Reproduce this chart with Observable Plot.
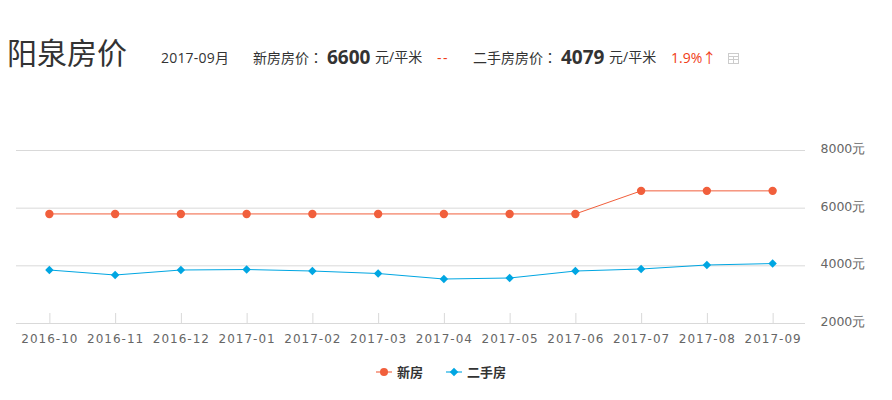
<!DOCTYPE html>
<html><head><meta charset="utf-8">
<script src="https://cdn.jsdelivr.net/npm/d3@7"></script>
<script src="https://cdn.jsdelivr.net/npm/@observablehq/plot@0.6"></script>
<style>
html,body{margin:0;padding:0;background:#fff;width:892px;height:400px;overflow:hidden;font-family:"Open Sans","Noto Sans CJK SC",sans-serif;}
#head{position:relative;height:90px;color:#333;}
#head span{position:absolute;white-space:nowrap;line-height:20px;top:48px;font-size:14px;}
#head span.c{top:47px;}
#head span i{font-style:normal;font-family:"Noto Sans CJK TC";}
#head .t{font-size:30px;left:7px;top:33px;line-height:40px;font-weight:400;}
#head .b{font-size:19px;font-weight:700;top:47px;}
#head .r{color:#f03c17;}
#head .g{left:728px;top:53px;width:9px;height:9px;border:1px solid #ccc;background:linear-gradient(#ccc,#ccc) 0 2px/100% 1px no-repeat,linear-gradient(#ccc,#ccc) 0 5px/100% 1px no-repeat,linear-gradient(#ccc,#ccc) 4px 3px/1px 6px no-repeat;}
#chart{height:270px;}
#chart svg{display:block;}
#chart g[aria-label="x-axis tick label"] text{letter-spacing:1px;}
#legend{position:relative;height:40px;font-size:13px;font-weight:700;color:#333;}
#legend .l{position:absolute;top:11px;height:2px;width:16px;opacity:.55;}
#legend .m{position:absolute;}
#legend .x{position:absolute;top:2px;line-height:20px;}
</style></head><body>
<div id="head">
<span class="t">阳泉房价</span>
<span style="left:161px;letter-spacing:.2px">2017-09月</span>
<span class="c" style="left:253px">新房房价<i>：</i></span>
<span class="b" style="left:327px">6600</span>
<span class="c" style="left:375px">元/平米</span>
<span class="r" style="left:437px;letter-spacing:1.5px">--</span>
<span class="c" style="left:473px">二手房房价<i>：</i></span>
<span class="b" style="left:561px">4079</span>
<span class="c" style="left:609px">元/平米</span>
<span class="r" style="left:671px">1.9%↑</span>
<span class="g"></span>
</div>
<div id="chart"></div>
<div id="legend">
<span class="l" style="left:376px;background:#f15f3c"></span>
<span class="m" style="left:380px;top:8px;width:8px;height:8px;border-radius:50%;background:#f15f3c"></span>
<span class="x" style="left:397px">新房</span>
<span class="l" style="left:446px;background:#00a6e2"></span>
<span class="m" style="left:451px;top:9px;width:6px;height:6px;transform:rotate(45deg);background:#00a6e2"></span>
<span class="x" style="left:467px">二手房</span>
</div>
<script>
const months = ["2016-10","2016-11","2016-12","2017-01","2017-02","2017-03","2017-04","2017-05","2017-06","2017-07","2017-08","2017-09"];
const newHome = [5800,5800,5800,5800,5800,5800,5800,5800,5800,6600,6600,6600];
const resale = [3855,3682,3855,3872,3820,3734,3543,3578,3820,3890,4029,4079];
const yTicks = [2000,4000,6000,8000];
const orange = "#f15f3c", blue = "#00a6e2";
const rowsNew = months.map((m,i)=>({m,v:newHome[i]}));
const rowsOld = months.map((m,i)=>({m,v:resale[i]}));
const plot = Plot.plot({
  width:892,height:270,marginLeft:16,marginRight:87,marginTop:60,marginBottom:37,
  style:{background:"transparent",fontFamily:"'DejaVu Sans',sans-serif",fontSize:"12px"},
  x:{type:"band",domain:months,padding:0,round:false,label:null},
  y:{domain:[2000,8000],label:null},
  marks:[
    Plot.gridY(yTicks,{stroke:"#d9d9d9",strokeOpacity:1,strokeWidth:1}),
    Plot.axisY(yTicks,{anchor:"right",tickSize:0,tickPadding:15,tickFormat:d=>d+"元",fill:"#666",label:null,fontSize:12.5,dy:-1.5}),
    Plot.axisX({anchor:"bottom",tickSize:-10,tickPadding:21,stroke:"#d9d9d9",strokeOpacity:1,fill:"#666",label:null,fontSize:12,dx:0.5}),
    Plot.lineY(rowsNew,{x:"m",y:"v",stroke:orange,strokeWidth:1}),
    Plot.lineY(rowsOld,{x:"m",y:"v",stroke:blue,strokeWidth:1}),
    Plot.dot(rowsNew,{x:"m",y:"v",fill:orange,r:4.2,symbol:"circle"}),
    Plot.dot(rowsOld,{x:"m",y:"v",fill:blue,r:3.8,symbol:"diamond2"})
  ]
});
document.getElementById("chart").appendChild(plot);
</script>
</body></html>
